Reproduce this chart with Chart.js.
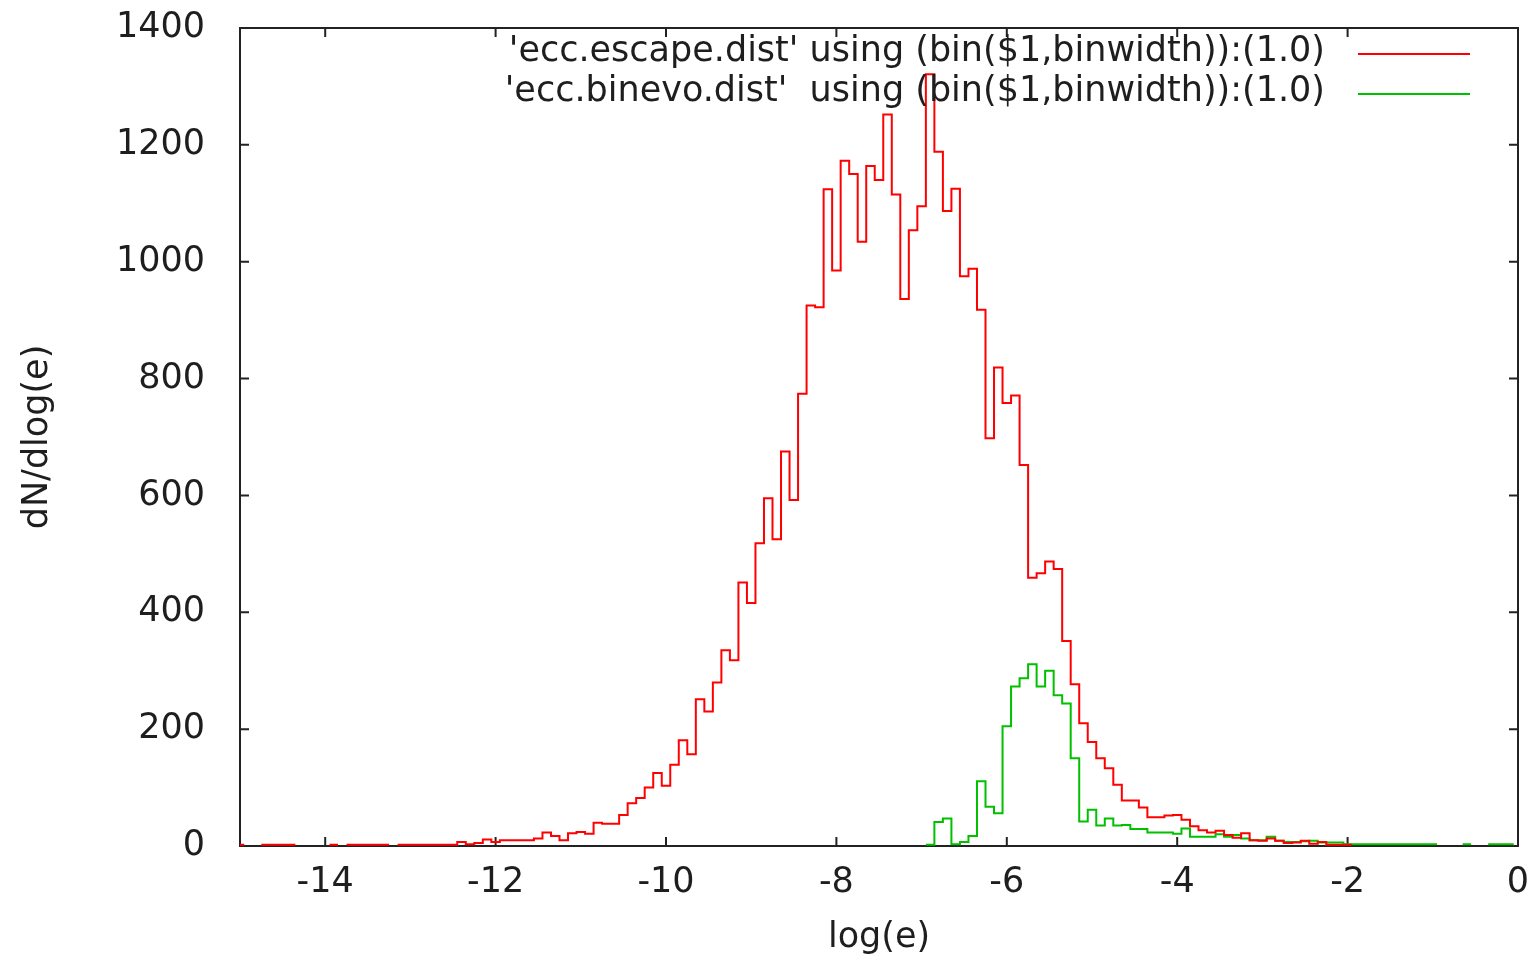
<!DOCTYPE html>
<html>
<head>
<meta charset="utf-8">
<title>ecc distributions</title>
<script src="https://cdn.jsdelivr.net/npm/chart.js@4.4.0/dist/chart.umd.min.js"></script>
<style>
  html, body { margin: 0; padding: 0; background: #fff; }
</style>
</head>
<body>
<canvas id="myChart" width="1530" height="959"></canvas>
<script>
// histogram bins of log(e), binwidth 0.1
var binwidth = 0.1

// 'ecc.escape.dist' counts, first bin at log(e) = -15.0
var escapeStart = -15.0
var escapeCounts = [
  2, null, null, 2, 2, 2, 2, null, null, null,
  null, 2, null, 2, 2, 2, 2, 2, null, 2,
  2, 2, 2, 2, 2, 2, 7, 3, 5, 11,
  7, 10, 10, 10, 10, 13, 23, 17, 10, 22,
  24, 21, 40, 38, 38, 53, 73, 82, 100, 125,
  103, 139, 181, 157, 251, 230, 280, 335, 318, 451,
  416, 518, 595, 525, 675, 592, 774, 925, 922, 1124,
  985, 1173, 1150, 1034, 1164, 1140, 1252, 1115, 936, 1054,
  1095, 1321, 1188, 1087, 1125, 975, 988, 918, 698, 819,
  758, 771, 652, 459, 467, 487, 474, 351, 277, 210,
  178, 150, 133, 105, 78, 78, 66, 49, 49, 52,
  53, 45, 34, 27, 23, 26, 19, 14, 22, 10,
  9, 13, 9, 5, 6, 9, 4, 7, 2, 2,
  2
]

// 'ecc.binevo.dist' counts, first bin at log(e) = -6.9
var binevoStart = -6.9
var binevoCounts = [
  2, 41, 47, 3, 7, 17, 111, 67, 56, 205,
  273, 287, 311, 273, 300, 258, 244, 150, 42, 62,
  35, 47, 35, 36, 29, 29, 23, 23, 23, 21,
  30, 16, 16, 16, 20, 16, 19, 13, 10, 10,
  16, 9, 7, 7, 8, 9, 6, 6, 6, 3,
  3, 3, 3, 3, 3, 3, 3, 3, 3, 3,
  null, null, null, 3, null, null, 3, 3, 3
]

var xTicks = [-14, -12, -10, -8, -6, -4, -2, 0]
var yTicks = [0, 200, 400, 600, 800, 1000, 1200, 1400]

var seriesLabels = [
  "'ecc.escape.dist' using (bin($1,binwidth)):(1.0)",
  "'ecc.binevo.dist'  using (bin($1,binwidth)):(1.0)"
]
var seriesColors = ['rgb(255, 0, 0)', 'rgb(0, 192, 0)']

var textColor = '#1e1e1e'
var axisFont = { family: 'DejaVu Sans', size: 35 }

// turn counts into histeps points (flat top over each bin)
function toSteps(start, counts) {
  var pts = []
  for (var i = 0; i < counts.length; i++) {
    var centre = Math.round((start + i * binwidth) * 100) / 100
    if (counts[i] === null) {
      pts.push({ x: centre, y: null })
    } else {
      pts.push({ x: centre - binwidth / 2, y: counts[i] })
      pts.push({ x: centre + binwidth / 2, y: counts[i] })
    }
  }
  return pts
}

// gnuplot-like frame: full box, inward ticks on all sides, key top right
var gnuplotFrame = {
  id: 'gnuplotFrame',
  beforeDatasetsDraw: function (chart) {
    var ctx = chart.ctx
    var a = chart.chartArea
    var xs = chart.scales.x, ys = chart.scales.y
    var tl = 9
    ctx.save()
    ctx.strokeStyle = '#222'
    ctx.lineWidth = 2
    ctx.strokeRect(a.left, a.top, a.right - a.left, a.bottom - a.top)
    ctx.beginPath()
    xTicks.forEach(function (v) {
      var px = xs.getPixelForValue(v)
      ctx.moveTo(px, a.bottom); ctx.lineTo(px, a.bottom - tl)
      ctx.moveTo(px, a.top); ctx.lineTo(px, a.top + tl)
    })
    yTicks.forEach(function (v) {
      var py = ys.getPixelForValue(v)
      ctx.moveTo(a.left, py); ctx.lineTo(a.left + tl, py)
      ctx.moveTo(a.right, py); ctx.lineTo(a.right - tl, py)
    })
    ctx.stroke()
    ctx.restore()
  },
  afterDraw: function (chart) {
    var ctx = chart.ctx
    ctx.save()
    ctx.font = axisFont.size + 'px ' + axisFont.family
    ctx.fillStyle = textColor
    ctx.textAlign = 'right'
    ctx.textBaseline = 'middle'
    chart.data.datasets.forEach(function (ds, i) {
      var y = 52 + i * 40
      ctx.fillText(ds.label, 1325, y)
      ctx.strokeStyle = ds.borderColor
      ctx.lineWidth = 2
      ctx.beginPath()
      ctx.moveTo(1358, y + 2)
      ctx.lineTo(1470, y + 2)
      ctx.stroke()
    })
    ctx.restore()
  }
}

function plainLabel(v) { return String(v) }

var ctx = document.getElementById('myChart').getContext('2d')
var chart = new Chart(ctx, {
  type: 'line',
  data: {
    datasets: [{
      label: seriesLabels[0],
      data: toSteps(escapeStart, escapeCounts),
      borderColor: seriesColors[0],
      borderWidth: 2,
      pointRadius: 0,
      tension: 0,
      spanGaps: false,
      fill: false
    }, {
      label: seriesLabels[1],
      data: toSteps(binevoStart, binevoCounts),
      borderColor: seriesColors[1],
      borderWidth: 2,
      pointRadius: 0,
      tension: 0,
      spanGaps: false,
      fill: false
    }]
  },
  options: {
    responsive: false,
    animation: false,
    layout: { padding: { top: 28, right: 12, left: 0, bottom: 0 } },
    plugins: {
      legend: { display: false },
      tooltip: { enabled: false }
    },
    scales: {
      x: {
        type: 'linear',
        min: -15,
        max: 0,
        afterBuildTicks: function (s) { s.ticks = xTicks.map(function (v) { return { value: v } }) },
        afterFit: function (s) { s.height = 113; s.paddingLeft = 0; s.paddingRight = 0 },
        grid: { display: false, drawTicks: false },
        border: { display: false },
        ticks: { font: axisFont, color: textColor, padding: 16, maxRotation: 0, autoSkip: false, callback: plainLabel },
        title: { display: true, text: 'log(e)', font: axisFont, color: textColor, padding: { top: 0, bottom: 0 } }
      },
      y: {
        type: 'linear',
        min: 0,
        max: 1400,
        afterBuildTicks: function (s) { s.ticks = yTicks.map(function (v) { return { value: v } }) },
        afterFit: function (s) { s.width = 240; s.paddingTop = 0; s.paddingBottom = 0 },
        grid: { display: false, drawTicks: false },
        border: { display: false },
        ticks: { font: axisFont, color: textColor, padding: 35, callback: plainLabel },
        title: { display: true, text: 'dN/dlog(e)', font: axisFont, color: textColor, padding: { top: 17, bottom: 0 } }
      }
    }
  },
  plugins: [gnuplotFrame]
})
</script>
</body>
</html>
